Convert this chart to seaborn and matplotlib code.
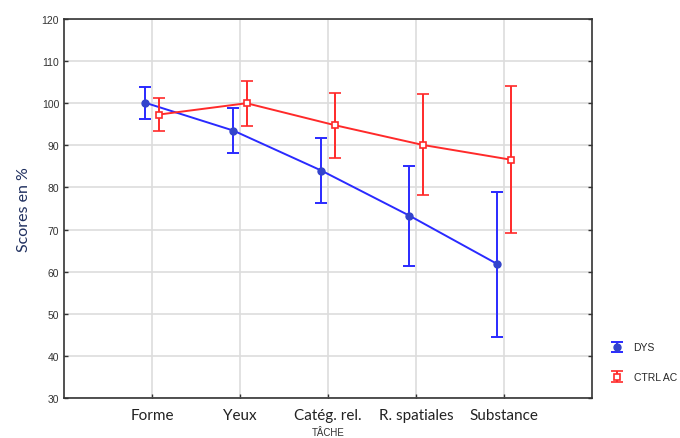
import matplotlib
matplotlib.use("Agg")
import matplotlib.pyplot as plt
import seaborn as sns
import pandas as pd
import numpy as np

tasks = ["Forme", "Yeux", "Catég. rel.", "R. spatiales", "Substance"]
dys_mean = [100.1, 93.5, 84.0, 73.3, 61.8]
dys_err = [3.8, 5.3, 7.7, 11.9, 17.2]
ctrl_mean = [97.3, 100.0, 94.8, 90.1, 86.6]
ctrl_err = [3.9, 5.3, 7.7, 12.0, 17.4]
groups = ["DYS", "CTRL AC"]

sns.set_theme(style="white")
plt.rcParams["font.family"] = ["Lato", "DejaVu Sans"]

df = pd.DataFrame({
    "TACHE": tasks * 2,
    "score": dys_mean + ctrl_mean,
    "groupe": [groups[0]] * len(tasks) + [groups[1]] * len(tasks),
})

fig = plt.figure(figsize=(6.8, 4.39), dpi=100)
ax = fig.add_axes([64 / 680, 1 - 399 / 439, (592 - 64) / 680, (399 - 20) / 439])

blue = "#2a2aff"
red = "#ff2a2a"
off = 0.075
x = np.arange(len(tasks))

sns.pointplot(data=df, x="TACHE", y="score", hue="groupe", dodge=2 * off,
              palette=[blue, red], markers=["o", "s"], errorbar=None,
              linewidth=1.4, markersize=0, ax=ax, legend=False)

h1 = ax.errorbar(x - off, dys_mean, yerr=dys_err, fmt="o", color=blue,
                 mfc="#3344cc", mec="#3344cc", ms=5, capsize=4, capthick=1.4,
                 elinewidth=1.4, zorder=5, label=groups[0])
h2 = ax.errorbar(x + off, ctrl_mean, yerr=ctrl_err, fmt="s", color=red,
                 mfc="white", mec=red, ms=5, mew=1.2, capsize=4, capthick=1.4,
                 elinewidth=1.4, zorder=5, label=groups[1])

ax.set_xlim(-1, 5)
ax.set_ylim(30, 120)
ax.set_yticks(range(30, 121, 10))
ax.set_xticks(x)
ax.set_xticklabels(tasks, fontsize=11, color="#222222")
ax.tick_params(axis="y", labelsize=7.5, labelcolor="#333333", direction="in",
               length=3, width=1, right=True, left=True, color="#333333")
ax.tick_params(axis="x", direction="in", length=3, width=1, bottom=True,
               color="#333333", pad=7)
for lbl in ax.get_yticklabels():
    lbl.set_family(["Liberation Sans", "DejaVu Sans"])
ax.grid(True, color="#dddddd", linewidth=1.2)
ax.set_axisbelow(True)
for s in ax.spines.values():
    s.set_color("#333333")
    s.set_linewidth(1.2)

ax.set_ylabel("Scores en %", fontsize=11.5, color="#1f2f5f", labelpad=8)
ax.set_xlabel("TÂCHE", fontsize=7, color="#333333",
              family=["Liberation Sans", "DejaVu Sans"], labelpad=4)

leg = fig.legend(handles=[h1, h2], labels=groups, loc="upper left",
                 bbox_to_anchor=(596 / 680, 1 - 334 / 439), frameon=False,
                 handlelength=2.2, handletextpad=0.5, labelspacing=1.9,
                 prop={"family": ["Liberation Sans", "DejaVu Sans"], "size": 7.5})

fig.savefig("out.png", dpi=100)
